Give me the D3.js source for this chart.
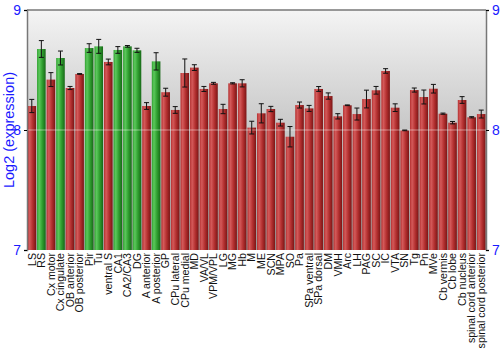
<!DOCTYPE html>
<html>
<head>
<meta charset="utf-8">
<script src="https://cdn.jsdelivr.net/npm/d3@7"></script>
<style>
  body { margin: 0; background: #fff; }
  svg { display: block; font-family: "Liberation Sans", Arial, sans-serif; }
</style>
</head>
<body>
<div class="center"></div>
<script>
// chart data
const regions = ["LS", "RS", "Cx motor", "Cx cingulate", "OB anterior", "OB posterior", "Pir", "Tu",
  "ventral S", "CA1", "CA2/CA3", "DG", "A anterior", "A posterior", "GP", "CPu lateral", "CPu medial",
  "MD", "VA/VL", "VPM/VPL", "LG", "MG", "Hb", "M", "ME", "SCN", "MPA", "SO", "Pa", "SPa ventral",
  "SPa dorsal", "DM", "VMH", "Arc", "LH", "PAG", "SC", "IC", "VTA", "SN", "Tg", "Pn", "MVe",
  "Cb vermis", "Cb lobe", "Cb nucleus", "spinal cord anterior", "spinal cord posterior"];

const expression = [8.20, 8.675, 8.42, 8.60, 8.35, 8.467, 8.683, 8.697,
  8.567, 8.667, 8.697, 8.664, 8.20, 8.572, 8.315, 8.167, 8.475,
  8.52, 8.342, 8.389, 8.175, 8.389, 8.389, 8.02, 8.139, 8.175, 8.061, 7.944, 8.208, 8.18,
  8.342, 8.283, 8.114, 8.206, 8.133, 8.258, 8.331, 8.492, 8.186, 7.997, 8.333, 8.275, 8.344,
  8.136, 8.061, 8.25, 8.106, 8.133];

const errors = [0.055, 0.07, 0.058, 0.058, 0.013, 0.003, 0.036, 0.058,
  0.024, 0.028, 0.007, 0.017, 0.028, 0.072, 0.033, 0.028, 0.117,
  0.024, 0.021, 0.008, 0.039, 0.005, 0.03, 0.053, 0.08, 0.022, 0.028, 0.085, 0.025, 0.025,
  0.02, 0.026, 0.022, 0.003, 0.05, 0.074, 0.032, 0.019, 0.032, 0.003, 0.017, 0.058, 0.036,
  0.005, 0.01, 0.028, 0.005, 0.033];

// regions drawn in green
const highlighted = ["RS", "Cx cingulate", "Pir", "Tu", "CA1", "CA2/CA3", "DG", "A posterior"];

const yTicks = [7, 8, 9];

const data = regions.map((r, i) => ({region: r, value: expression[i], err: errors[i]}));

const margin = {top: 10, right: 14, bottom: 100, left: 27};
const width = 500 - margin.left - margin.right;
const height = 350 - margin.top - margin.bottom;

const xScale = d3.scaleBand().domain(regions).range([0, width]).paddingInner(0.1).paddingOuter(0.05);
const yScale = d3.scaleLinear().domain([7, 9]).range([height, 0]);

const svg = d3.select(".center").append("svg")
  .attr("width", width + margin.left + margin.right)
  .attr("height", height + margin.top + margin.bottom);

const defs = svg.append("defs");

// plot background: light at top, darker grey lower down
const bg = defs.append("linearGradient").attr("id", "bg")
  .attr("x1", 0).attr("y1", 0).attr("x2", 0).attr("y2", 1);
bg.append("stop").attr("offset", "0%").attr("stop-color", "#f4f4f4");
bg.append("stop").attr("offset", "100%").attr("stop-color", "#9a9a9a");

// cylinder shading for the bars
function barGradient(id, light, mid, dark) {
  const g = defs.append("linearGradient").attr("id", id)
    .attr("x1", 0).attr("y1", 0).attr("x2", 1).attr("y2", 0);
  g.append("stop").attr("offset", "0%").attr("stop-color", mid);
  g.append("stop").attr("offset", "25%").attr("stop-color", light);
  g.append("stop").attr("offset", "60%").attr("stop-color", mid);
  g.append("stop").attr("offset", "100%").attr("stop-color", dark);
}
barGradient("red", "#d45a5a", "#b43030", "#7a1515");
barGradient("green", "#5cc85c", "#30a030", "#186818");

const g = svg.append("g").attr("transform", `translate(${margin.left},${margin.top})`);

g.append("rect")
  .attr("width", width).attr("height", height)
  .attr("fill", "url(#bg)");

// bars
g.selectAll(".bar")
  .data(data)
  .enter().append("rect")
  .attr("class", "bar")
  .attr("x", d => xScale(d.region))
  .attr("y", d => yScale(d.value))
  .attr("width", xScale.bandwidth())
  .attr("height", d => height - yScale(d.value))
  .attr("fill", d => highlighted.includes(d.region) ? "url(#green)" : "url(#red)");

// grid line at 8
g.append("line")
  .attr("x1", 0).attr("x2", width)
  .attr("y1", yScale(8)).attr("y2", yScale(8))
  .attr("stroke", "#fff").attr("stroke-opacity", 0.45);

// error bars
const cx = d => xScale(d.region) + xScale.bandwidth() / 2;
const eb = g.selectAll(".err").data(data).enter().append("g").attr("class", "err")
  .attr("stroke", "#111").attr("stroke-width", 1);
eb.append("line")
  .attr("x1", cx).attr("x2", cx)
  .attr("y1", d => yScale(d.value + d.err)).attr("y2", d => yScale(d.value - d.err));
eb.append("line")
  .attr("x1", d => cx(d) - 2.5).attr("x2", d => cx(d) + 2.5)
  .attr("y1", d => yScale(d.value + d.err)).attr("y2", d => yScale(d.value + d.err));
eb.append("line")
  .attr("x1", d => cx(d) - 2.5).attr("x2", d => cx(d) + 2.5)
  .attr("y1", d => yScale(d.value - d.err)).attr("y2", d => yScale(d.value - d.err));

// frame lines
g.append("line").attr("x1", 0).attr("x2", width).attr("y1", 0).attr("y2", 0)
  .attr("stroke", "#777").attr("stroke-width", 1.5);

// y axes left and right
const yLeft = g.append("g").call(d3.axisLeft(yScale).tickValues(yTicks).tickSize(3).tickFormat(d3.format("d")));
const yRight = g.append("g").attr("transform", `translate(${width},0)`)
  .call(d3.axisRight(yScale).tickValues(yTicks).tickSize(3).tickFormat(d3.format("d")));
[yLeft, yRight].forEach(ax => {
  ax.select(".domain").attr("stroke", "#777").attr("stroke-width", 1.5);
  ax.selectAll(".tick line").attr("stroke", "#000");
  ax.selectAll("text").attr("fill", "#1a1aff")
    .style("font-family", "Liberation Sans, Arial, sans-serif").style("font-size", "14px");
});

// x labels
g.append("g").attr("transform", `translate(0,${height})`)
  .call(d3.axisBottom(xScale).tickSize(0).tickPadding(0))
  .call(ax => ax.select(".domain").remove())
  .selectAll("text")
  .attr("transform", "rotate(-90)")
  .attr("text-anchor", "end")
  .attr("dx", "-3px")
  .attr("dy", "0.35em")
  .attr("x", 0).attr("y", 0)
  .attr("fill", "#111")
  .style("font-family", "Liberation Sans, Arial, sans-serif")
  .style("font-size", "10.6px");

// y axis title
svg.append("text")
  .text("Log2 (expression)")
  .attr("transform", "rotate(-90)")
  .attr("x", -(margin.top + yScale(8)))
  .attr("y", 14)
  .attr("text-anchor", "middle")
  .attr("fill", "#1a1aff")
  .style("font-size", "14.5px");
</script>
</body>
</html>
